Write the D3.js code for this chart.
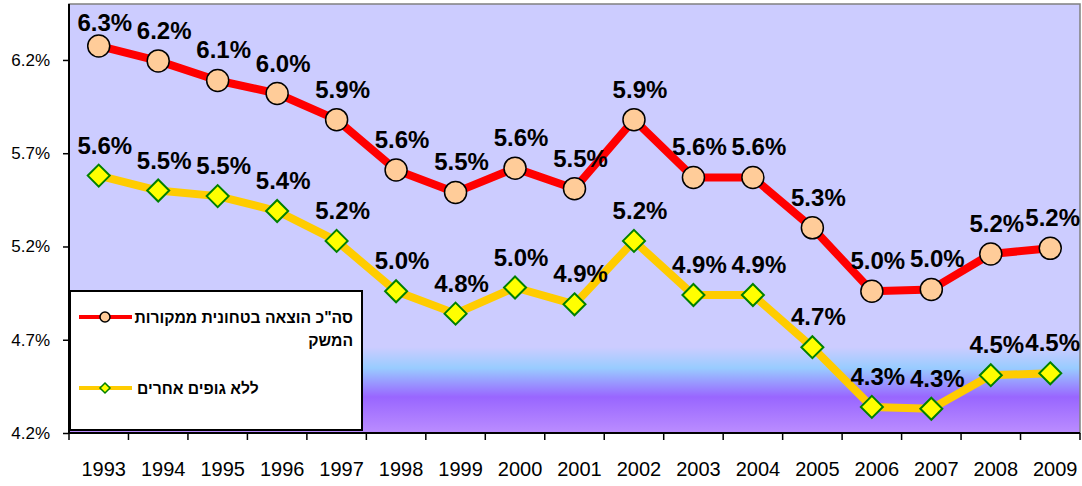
<!DOCTYPE html>
<html>
<head>
<meta charset="utf-8">
<script src="https://cdn.jsdelivr.net/npm/d3@7"></script>
<style>
  body { margin: 0; background: #fff; }
  text { font-family: Arial, "Liberation Sans", sans-serif; }
</style>
</head>
<body>
<svg id="chart" width="1082" height="486"></svg>
<script>
// data
var years = ['1993','1994','1995','1996','1997','1998','1999','2000','2001','2002','2003','2004','2005','2006','2007','2008','2009'];
var totalSpend = [6.275, 6.195, 6.09, 6.02, 5.88, 5.61, 5.49, 5.62, 5.51, 5.88, 5.57, 5.57, 5.30, 4.96, 4.97, 5.16, 5.19];
var noOtherBodies = [5.58, 5.50, 5.47, 5.39, 5.23, 4.96, 4.84, 4.98, 4.89, 5.23, 4.94, 4.94, 4.66, 4.34, 4.33, 4.51, 4.52];
var yTicks = [4.2, 4.7, 5.2, 5.7, 6.2];
var seriesNames = ['סה"כ הוצאה בטחונית ממקורות', 'המשק'];
var seriesName2 = 'ללא גופים אחרים';

var svg = d3.select('#chart');
// note: "top" is taken by window.top, so plot edges get a p prefix
var pLeft = 69, pRight = 1080, pTop = 4, pBottom = 433;

var x = d3.scaleBand().domain(years).range([pLeft, pRight]);
var y = d3.scaleLinear().domain([4.2, 6.5]).range([pBottom, pTop]);

// background gradient of the plot area
var defs = svg.append('defs');
var grad = defs.append('linearGradient')
	.attr('id', 'bg').attr('x1', 0).attr('x2', 0).attr('y1', 0).attr('y2', 1);
var h = pBottom - pTop;
var stops = [[0, '#ccccff'], [(347 - pTop) / h, '#ccccff'], [(368 - pTop) / h, '#99ccff'],
	[(397 - pTop) / h, '#9966ff'], [1, '#bb8dff']];
stops.forEach(function(s){
	grad.append('stop').attr('offset', s[0]).attr('stop-color', s[1]);
});

svg.append('rect')
	.attr('x', pLeft).attr('y', pTop)
	.attr('width', pRight - pLeft).attr('height', h)
	.attr('fill', 'url(#bg)')
	.attr('stroke', '#808080').attr('stroke-width', 1.5);

// y axis
var yAxis = d3.axisLeft(y).tickValues(yTicks).tickSize(6).tickPadding(13)
	.tickFormat(function(d){ return d.toFixed(1) + '%'; });
var gy = svg.append('g').attr('transform', 'translate(' + pLeft + ',0)').call(yAxis);
gy.select('.domain').attr('stroke', '#000').attr('stroke-width', 2).attr('d', 'M0,' + pTop + 'V' + pBottom);
gy.selectAll('.tick line').attr('stroke', '#000').attr('stroke-width', 1.5);
gy.selectAll('.tick text').attr('font-size', 17).attr('fill', '#000').attr('font-family', 'Arial, "Liberation Sans", sans-serif');

// x axis: ticks sit between the categories
var gx = svg.append('g').attr('transform', 'translate(0,' + pBottom + ')');
gx.append('line').attr('x1', pLeft).attr('x2', pRight).attr('stroke', '#000').attr('stroke-width', 2);
var bounds = years.map(function(d){ return x(d); }).concat([pRight]);
gx.selectAll('.tk').data(bounds).enter().append('line')
	.attr('x1', function(d){ return d; }).attr('x2', function(d){ return d; })
	.attr('y1', 0).attr('y2', 7)
	.attr('stroke', '#000').attr('stroke-width', 1.5);
gx.selectAll('.yr').data(years).enter().append('text')
	.attr('x', function(d){ return x(d) + x.bandwidth() / 2 + 5; })
	.attr('y', 43)
	.attr('text-anchor', 'middle')
	.attr('font-size', 20)
	.text(function(d){ return d; });

var cx = function(d, i){ return x(years[i]) + x.bandwidth() / 2; };
var line = d3.line().x(cx).y(function(d){ return y(d); });

function drawSeries(vals, color, marker){
	svg.append('path').datum(vals)
		.attr('d', line)
		.attr('fill', 'none')
		.attr('stroke', color)
		.attr('stroke-width', 8)
		.attr('stroke-linejoin', 'round');
	if(marker == 'circle'){
		svg.selectAll(null).data(vals).enter().append('circle')
			.attr('cx', cx).attr('cy', function(d){ return y(d); })
			.attr('r', 11)
			.attr('fill', '#ffcc99').attr('stroke', '#000').attr('stroke-width', 1.5);
	} else {
		svg.selectAll(null).data(vals).enter().append('path')
			.attr('transform', function(d, i){ return 'translate(' + cx(d, i) + ',' + y(d) + ')'; })
			.attr('d', 'M0,-11L11,0L0,11L-11,0Z')
			.attr('fill', '#ffff00').attr('stroke', '#008000').attr('stroke-width', 2);
	}
	svg.selectAll(null).data(vals).enter().append('text')
		.attr('y', function(d){ return Math.max(y(d) - 22, 31); })
		.attr('text-anchor', 'middle')
		.attr('font-size', 24)
		.attr('font-weight', 'bold')
		.text(function(d){ return d3.format('.1f')(d) + '%'; })
		.attr('x', function(d, i){
			// keep the label inside the plot on the right
			var half = this.getComputedTextLength() / 2;
			return Math.min(cx(d, i) + 6, pRight - half);
		});
}

drawSeries(noOtherBodies, '#ffcc00', 'diamond');
drawSeries(totalSpend, '#ff0000', 'circle');

// legend
var lg = svg.append('g');
lg.append('rect')
	.attr('x', 70).attr('y', 291).attr('width', 292).attr('height', 139)
	.attr('fill', '#fff').attr('stroke', '#000').attr('stroke-width', 2);
lg.append('line').attr('x1', 79).attr('x2', 132).attr('y1', 317).attr('y2', 317)
	.attr('stroke', '#ff0000').attr('stroke-width', 4);
lg.append('circle').attr('cx', 105).attr('cy', 317).attr('r', 5)
	.attr('fill', '#ffcc99').attr('stroke', '#000').attr('stroke-width', 1.5);
lg.append('text').attr('x', 353).attr('y', 323).attr('text-anchor', 'end')
	.attr('font-size', 15.7).attr('font-weight', 'bold').text(seriesNames[0]);
lg.append('text').attr('x', 353).attr('y', 346).attr('text-anchor', 'end')
	.attr('font-size', 15.7).attr('font-weight', 'bold').text(seriesNames[1]);
lg.append('line').attr('x1', 79).attr('x2', 132).attr('y1', 388).attr('y2', 388)
	.attr('stroke', '#ffcc00').attr('stroke-width', 4);
lg.append('path').attr('transform', 'translate(105,388)').attr('d', 'M0,-5L5,0L0,5L-5,0Z')
	.attr('fill', '#ffff00').attr('stroke', '#008000').attr('stroke-width', 1.5);
lg.append('text').attr('x', 137).attr('y', 394).attr('text-anchor', 'start')
	.attr('font-size', 15.7).attr('font-weight', 'bold').text(seriesName2);
</script>
</body>
</html>
